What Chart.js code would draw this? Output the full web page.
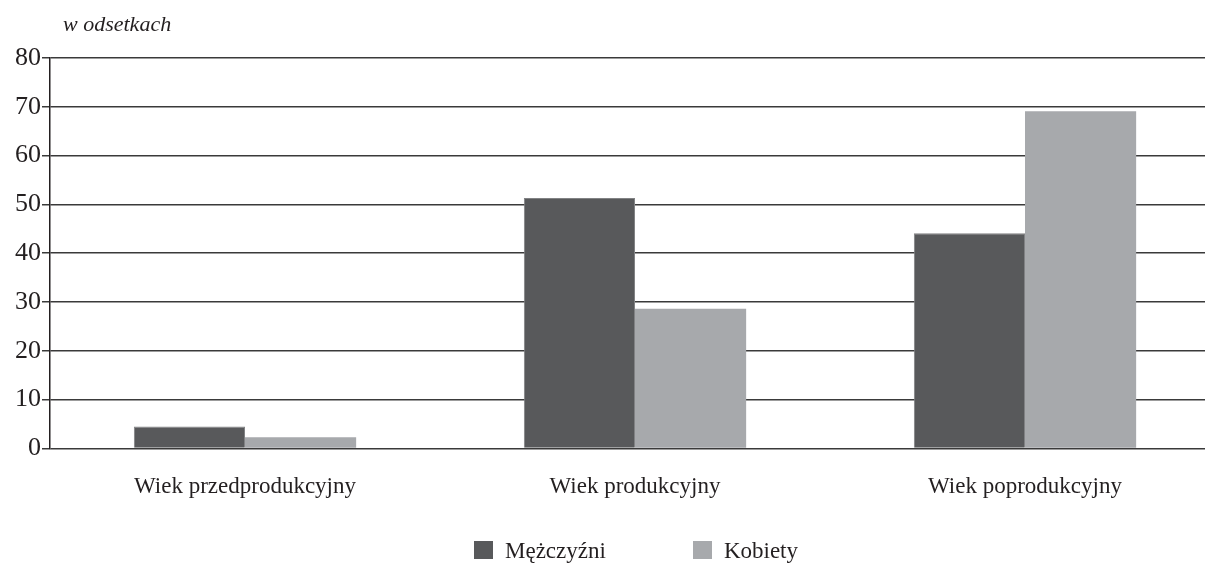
<!DOCTYPE html>
<html>
<head>
<meta charset="utf-8">
<script src="https://cdn.jsdelivr.net/npm/chart.js@4"></script>
<style>
  html, body { margin: 0; padding: 0; background: #fff; overflow: hidden; }
  #wrap { position: relative; width: 1220px; height: 567px; }
  #jednostka {
    position: absolute; left: 63px; top: 11px;
    font-family: "Liberation Serif", "DejaVu Serif", serif;
    font-style: italic; font-size: 22px; color: #231f20;
  }
  #legenda {
    position: absolute; left: 474px; top: 538px;
    font-family: "Liberation Serif", "DejaVu Serif", serif;
    font-size: 23px; color: #231f20; white-space: nowrap;
  }
  #legenda span.pozycja { display: inline-block; margin-right: 87px; }
  #legenda span.kwadrat {
    display: inline-block; width: 19px; height: 18px;
    vertical-align: -1px; margin-right: 12px;
  }
</style>
</head>
<body>
<div id="wrap">
  <div id="jednostka">w odsetkach</div>
  <canvas id="wykres" width="1220" height="567"></canvas>
  <div id="legenda"></div>
</div>
<script>
// Dane wykresu
const kategorie = ['Wiek przedprodukcyjny', 'Wiek produkcyjny', 'Wiek poprodukcyjny'];
const mezczyzni = [4.5, 51.3, 44.1];
const kobiety = [2.3, 28.6, 69.1];
const osY = [0, 10, 20, 30, 40, 50, 60, 70, 80];

const czcionka = '"Liberation Serif", "DejaVu Serif", serif';

const config = {
    type: 'bar',
    data: {
        labels: kategorie,
        datasets: [{
            label: 'Mężczyźni',
            data: mezczyzni,
            backgroundColor: '#58595b',
            borderColor: '#818284',
            borderWidth: 1
        }, {
            label: 'Kobiety',
            data: kobiety,
            backgroundColor: '#a7a9ac',
            borderColor: '#a7a9ac',
            borderWidth: 0
        }]
    },
    options: {
        responsive: false,
        animation: false,
        layout: {
            padding: { top: 58, left: 14, right: 0, bottom: 49 }
        },
        datasets: {
            bar: { categoryPercentage: 0.57, barPercentage: 1 }
        },
        plugins: {
            tooltip: { enabled: false },
            legend: { display: false }
        },
        scales: {
            x: {
                grid: { display: false },
                border: { display: false },
                ticks: {
                    color: '#231f20',
                    font: { family: czcionka, size: 23 },
                    padding: 17
                }
            },
            y: {
                min: 0,
                max: 80,
                afterBuildTicks: axis => {
                    axis.ticks = osY.map(v => ({ value: v }));
                },
                grid: {
                    color: '#3a3a3a',
                    lineWidth: 1.5,
                    tickLength: 8,
                    drawTicks: true
                },
                border: { color: '#231f20', width: 1.5 },
                ticks: {
                    color: '#231f20',
                    font: { family: czcionka, size: 26 },
                    padding: 1
                }
            }
        }
    }
};

const wykres = new Chart(document.getElementById('wykres'), config);

// Legenda w HTML, kolory brane z serii wykresu
const legenda = document.getElementById('legenda');
wykres.data.datasets.forEach(ds => {
    const poz = document.createElement('span');
    poz.className = 'pozycja';
    const kw = document.createElement('span');
    kw.className = 'kwadrat';
    kw.style.background = ds.backgroundColor;
    poz.appendChild(kw);
    poz.appendChild(document.createTextNode(ds.label));
    legenda.appendChild(poz);
});
</script>
</body>
</html>
